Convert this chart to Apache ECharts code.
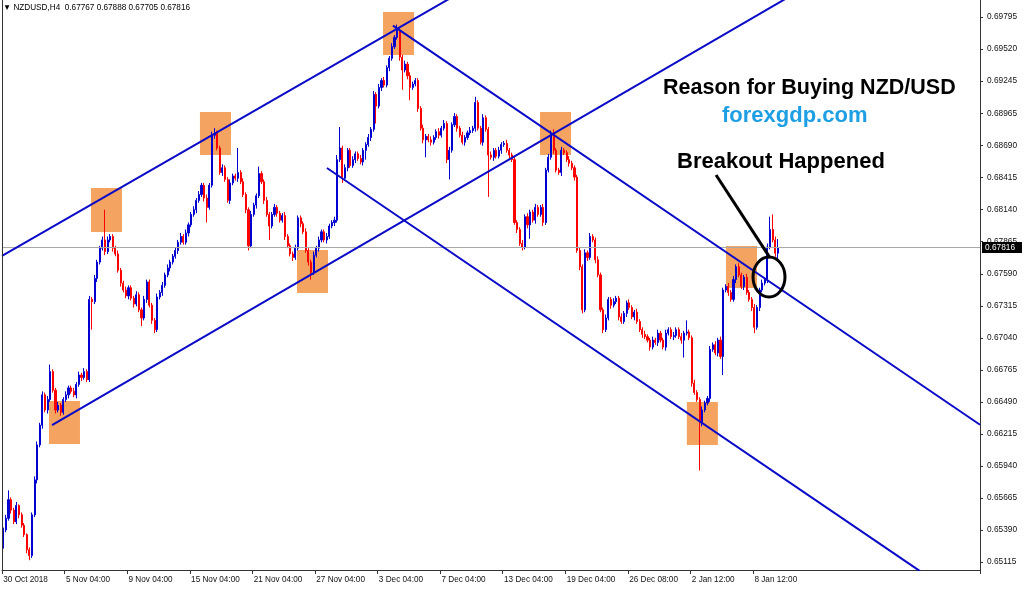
<!DOCTYPE html>
<html><head><meta charset="utf-8">
<script src="https://cdn.jsdelivr.net/npm/echarts@6/dist/echarts.min.js"></script>
<style>html,body{margin:0;padding:0;background:#fff}#c{width:1024px;height:589px}</style>
</head><body><div id="c"></div><script>
const symbol = 'NZDUSD,H4';
const xTickLabels = ['30 Oct 2018','5 Nov 04:00','9 Nov 04:00','15 Nov 04:00','21 Nov 04:00','27 Nov 04:00','3 Dec 04:00','7 Dec 04:00','13 Dec 04:00','19 Dec 04:00','26 Dec 08:00','2 Jan 12:00','8 Jan 12:00'];
const barsPerLabel = 24;
const totalSlots = 375;
const yTicks = [0.69795,0.69520,0.69245,0.68965,0.68690,0.68415,0.68140,0.67865,0.67590,0.67315,0.67040,0.66765,0.66490,0.66215,0.65940,0.65665,0.65390,0.65115];
const yMin = 0.65046, yMax = 0.69941;
const firstOpen = 0.6526;
const close = [
0.6539,0.6549,0.6565,0.6556,0.6546,0.6560,0.6552,0.6543,0.6535,0.6522,
0.6517,0.6552,0.6582,0.6612,0.6629,0.6655,0.6642,0.6651,0.6675,0.6659,
0.6642,0.6646,0.6640,0.6651,0.6655,0.6661,0.6658,0.6655,0.6664,0.6672,
0.6670,0.6675,0.6668,0.6737,0.6735,0.6755,0.6769,0.6781,0.6788,0.6778,
0.6788,0.6791,0.6781,0.6776,0.6762,0.6751,0.6745,0.6740,0.6747,0.6738,
0.6733,0.6741,0.6728,0.6721,0.6737,0.6752,0.6732,0.6719,0.6711,0.6739,
0.6743,0.6749,0.6758,0.6764,0.6769,0.6774,0.6779,0.6786,0.6791,0.6786,
0.6794,0.6801,0.6810,0.6814,0.6822,0.6827,0.6835,0.6824,0.6816,0.6835,
0.6878,0.6880,0.6867,0.6846,0.6850,0.6840,0.6822,0.6837,0.6843,0.6841,
0.6846,0.6838,0.6827,0.6814,0.6783,0.6810,0.6818,0.6826,0.6845,0.6838,
0.6822,0.6810,0.6800,0.6810,0.6816,0.6811,0.6805,0.6809,0.6791,0.6783,
0.6776,0.6773,0.6781,0.6807,0.6802,0.6795,0.6779,0.6769,0.6760,0.6775,
0.6781,0.6788,0.6795,0.6788,0.6791,0.6800,0.6803,0.6805,0.6857,0.6867,
0.6841,0.6850,0.6865,0.6852,0.6857,0.6862,0.6858,0.6855,0.6865,0.6870,
0.6876,0.6883,0.6913,0.6903,0.6919,0.6925,0.6921,0.6936,0.6944,0.6954,
0.6962,0.6968,0.6945,0.6934,0.6939,0.6929,0.6919,0.6922,0.6925,0.6901,
0.6884,0.6874,0.6877,0.6874,0.6872,0.6876,0.6881,0.6878,0.6884,0.6888,
0.6857,0.6865,0.6887,0.6894,0.6884,0.6878,0.6872,0.6876,0.6880,0.6882,
0.6884,0.6906,0.6884,0.6872,0.6893,0.6883,0.6861,0.6859,0.6865,0.6860,
0.6865,0.6870,0.6871,0.6865,0.6861,0.6857,0.6803,0.6797,0.6785,0.6782,
0.6808,0.6801,0.6812,0.6805,0.6816,0.6810,0.6816,0.6803,0.6848,0.6859,
0.6880,0.6865,0.6848,0.6846,0.6865,0.6863,0.6857,0.6854,0.6850,0.6842,
0.6779,0.6765,0.6728,0.6777,0.6773,0.6791,0.6788,0.6771,0.6758,0.6728,
0.6711,0.6721,0.6737,0.6732,0.6735,0.6738,0.6722,0.6718,0.6725,0.6734,
0.6730,0.6722,0.6726,0.6718,0.6711,0.6707,0.6705,0.6702,0.6696,0.6702,
0.6700,0.6708,0.6702,0.6696,0.6708,0.6711,0.6705,0.6706,0.6711,0.6705,
0.6702,0.6708,0.6709,0.6704,0.6665,0.6657,0.6651,0.6631,0.6642,0.6648,
0.6652,0.6694,0.6698,0.6691,0.6702,0.6688,0.6745,0.6748,0.6743,0.6737,
0.6754,0.6765,0.6758,0.6748,0.6756,0.6743,0.6737,0.6730,0.6713,0.6730,
0.6745,0.6751,0.6754,0.6782,0.6797,0.6788,0.67767,0.67816];
// wick lengths in pips (0.0001) above the body top / below the body bottom
const upperWick = [
2,3,8,2,2,3,1,2,2,1, 2,2,3,3,2,3,2,3,6,2, 2,3,2,2,3,2,2,3,2,3, 2,3,2,3,2,3,2,2,3,26,
3,2,2,2,3,2,2,3,2,2, 2,3,2,2,3,2,2,2,2,3, 2,3,2,3,2,2,3,2,3,2, 3,2,2,3,2,3,2,2,3,2,
3,4,2,2,3,2,2,3,2,2, 21,2,3,2,2,3,2,2,6,2, 2,3,2,2,3,2,2,2,3,2, 2,2,3,2,2,2,3,2,2,3,
2,3,2,2,3,2,2,3,4,18, 2,3,2,2,3,2,2,3,2,2, 3,2,3,2,3,2,3,2,2,3, 2,5,2,2,3,2,3,2,2,2,
2,3,2,2,3,2,2,3,2,3, 2,3,2,3,2,2,3,2,2,3, 2,5,2,2,3,2,2,3,2,2, 3,2,2,3,2,2,3,2,2,3,
2,3,2,2,3,2,2,3,2,3, 2,3,2,2,3,2,2,3,2,2, 2,3,2,3,2,3,2,2,3,2, 2,3,2,2,3,2,2,3,2,2,
3,2,2,3,2,2,3,2,2,3, 2,3,2,2,3,2,2,3,2,2, 3,2,10,2,2,3,2,2,3,2, 2,3,2,3,2,3,2,2,3,2,
3,2,3,2,2,3,2,2,3,2, 2,3,2,3,11,13,3,7.2];
const lowerWick = [
3,2,2,3,2,2,3,2,2,3, 4,2,2,3,2,3,2,3,2,2, 3,2,3,2,2,3,2,2,3,2, 3,2,2,2,24,2,3,2,2,3,
2,2,3,2,2,3,2,2,3,2, 3,2,2,7,2,3,2,3,3,2, 2,3,2,2,3,2,2,3,2,2, 2,3,2,2,3,2,2,3,13,2,
2,3,2,2,3,2,2,3,2,2, 3,2,2,3,4,2,2,3,2,2, 3,2,12,2,2,3,2,2,3,2, 2,3,2,2,3,2,2,3,6,2,
2,3,2,2,3,2,2,3,2,2, 4,2,3,2,2,3,2,2,3,8, 2,3,2,15,2,3,2,2,3,2, 2,2,3,17,2,3,11,2,2,3,
2,3,15,2,3,2,2,3,2,2, 3,17,2,2,3,2,2,3,2,2, 2,3,2,2,3,2,36,2,3,2, 2,3,2,2,3,2,2,3,2,3,
2,3,12,2,3,2,2,3,2,2, 2,3,2,2,3,2,2,3,2,3, 2,3,3,2,3,2,2,3,2,2, 3,2,2,3,2,2,3,2,2,3,
2,2,3,2,2,3,2,2,3,2, 2,3,2,2,3,2,2,3,2,2, 3,15,2,2,3,2,2,41,3,2, 2,3,2,2,3,2,16,2,3,2,
2,3,2,2,3,2,2,3,5,2, 3,2,2,3,2,2,3,6.2];
// annotations in (bar index, price)
const upperChannel = [[-0.5,0.67743],[175,0.70003]];
const lowerChannel = [[18.67,0.66291],[302,0.69978]];
const upperDownLine = [[149.4,0.69721],[374.5,0.66293]];
const lowerDownLine = [[124.1,0.68498],[351.5,0.65036]];
const boxes = [
[33.6,0.68327,45.5,0.67949],[17.5,0.66498,29.4,0.66128],[75.4,0.68979,87.3,0.68610],[112.6,0.67794,124.5,0.67425],
[145.6,0.69838,157.5,0.69469],[205.8,0.68979,217.7,0.68610],[262.1,0.66489,274.0,0.66120],[277.1,0.67829,289.0,0.67468]];
const arrowLine = [[273.3,0.68438],[294.0,0.67726]];
const breakoutCircle = [[293.6,0.67562,6.13,0.001717]];

const categories = [];
for (let i = 0; i < totalSlots; i++) {
  categories.push(i % barsPerLabel === 0 && i / barsPerLabel < xTickLabels.length ? xTickLabels[i / barsPerLabel] : '');
}
const candles = close.map((c, i) => {
  const o = i ? close[i - 1] : firstOpen;
  const hi = Math.max(o, c) + upperWick[i] / 1e4;
  const lo = Math.min(o, c) - lowerWick[i] / 1e4;
  return [o, c, lo, hi];
});
const last = candles[candles.length - 1];
const header = '\u25BC ' + symbol + '  ' + last[0].toFixed(5) + ' ' + last[3].toFixed(5) + ' ' + last[2].toFixed(5) + ' ' + last[1].toFixed(5);
const FONT = '"Liberation Sans", Arial, sans-serif';
const lineSeries = (d) => ({
  type: 'line', xAxisIndex: 1, yAxisIndex: 0, data: d, symbol: 'none', z: 5, clip: true,
  lineStyle: { color: '#0A0AC8', width: 2 }, silent: true
});
const chart = echarts.init(document.getElementById('c'));
chart.setOption({
  animation: false,
  backgroundColor: '#fff',
  title: { text: header, left: 3, top: 4, padding: 0,
    textStyle: { fontFamily: FONT, fontSize: 8.2, fontWeight: 'normal', color: '#000' } },
  grid: { left: 2, right: 44, top: 0, bottom: 19 },
  xAxis: [{
    type: 'category', data: categories, boundaryGap: true,
    axisLine: { onZero: false, lineStyle: { color: '#333', width: 1 } },
    axisTick: { show: true, interval: (i, v) => v !== '', length: 4, lineStyle: { color: '#333' } },
    axisLabel: { interval: (i, v) => v !== '', align: 'left', margin: 6, fontSize: 8.2, fontFamily: FONT, color: '#111' },
    splitLine: { show: false }
  }, {
    type: 'value', min: -0.5, max: totalSlots - 0.5, show: false,
    axisLine: { show: false, onZero: false }, axisTick: { show: false }, axisLabel: { show: false }, splitLine: { show: false }
  }],
  yAxis: [{
    type: 'value', position: 'right', min: yMin, max: yMax, scale: true,
    axisLine: { show: true, onZero: false, lineStyle: { color: '#333', width: 1 } },
    axisTick: { show: true, customValues: yTicks, length: 3, lineStyle: { color: '#333' } },
    axisLabel: { customValues: yTicks, formatter: v => v.toFixed(5), margin: 7, fontSize: 8.3, fontFamily: FONT, color: '#111' },
    splitLine: { show: false }
  }],
  series: [
    {
      type: 'custom', xAxisIndex: 1, yAxisIndex: 0, z: 1, silent: true, data: boxes,
      renderItem: (params, api) => {
        const a = api.coord([api.value(0), api.value(1)]);
        const b = api.coord([api.value(2), api.value(3)]);
        return { type: 'rect', shape: { x: a[0], y: a[1], width: b[0] - a[0], height: b[1] - a[1] },
          style: { fill: '#F4A460' } };
      }
    },
    {
      type: 'candlestick', xAxisIndex: 0, yAxisIndex: 0, data: candles, z: 3, barWidth: 1.6,
      itemStyle: { color: '#0000D0', color0: '#FF0000', borderColor: '#0000D0', borderColor0: '#FF0000', borderWidth: 1 },
      markLine: {
        silent: true, symbol: 'none', animation: false, precision: 5,
        lineStyle: { color: '#A8A8A8', width: 1, type: 'solid' },
        label: { position: 'end', distance: 2, formatter: p => Number(p.value).toFixed(5),
          backgroundColor: '#000', color: '#fff', fontSize: 8.3, fontFamily: FONT, padding: [2, 7, 1, 3] },
        data: [{ yAxis: close[close.length - 1] }]
      }
    },
    lineSeries(upperChannel),
    lineSeries(lowerChannel),
    lineSeries(upperDownLine),
    lineSeries(lowerDownLine),
    {
      type: 'line', xAxisIndex: 1, yAxisIndex: 0, data: arrowLine, symbol: 'none', z: 6, silent: true,
      lineStyle: { color: '#000', width: 3 }
    },
    {
      type: 'custom', xAxisIndex: 1, yAxisIndex: 0, z: 6, silent: true, data: breakoutCircle,
      renderItem: (params, api) => {
        const c = api.coord([api.value(0), api.value(1)]);
        const s = api.size([api.value(2), api.value(3)]);
        return { type: 'ellipse', shape: { cx: c[0], cy: c[1], rx: s[0], ry: s[1] },
          style: { fill: 'none', stroke: '#000', lineWidth: 3 } };
      }
    }
  ],
  graphic: [
    { type: 'line', z: 10, silent: true, shape: { x1: 2.5, y1: 0, x2: 2.5, y2: 570 }, style: { stroke: '#333', lineWidth: 1 } },
    { type: 'text', left: 663, top: 77, z: 10, style: { text: 'Reason for Buying NZD/USD', font: 'bold 21.5px ' + FONT, fill: '#000' } },
    { type: 'text', left: 722, top: 105, z: 10, style: { text: 'forexgdp.com', font: 'bold 22px ' + FONT, fill: '#1E9FE3' } },
    { type: 'text', left: 677, top: 151, z: 10, style: { text: 'Breakout Happened', font: 'bold 22px ' + FONT, fill: '#000' } }
  ]
});
</script></body></html>
